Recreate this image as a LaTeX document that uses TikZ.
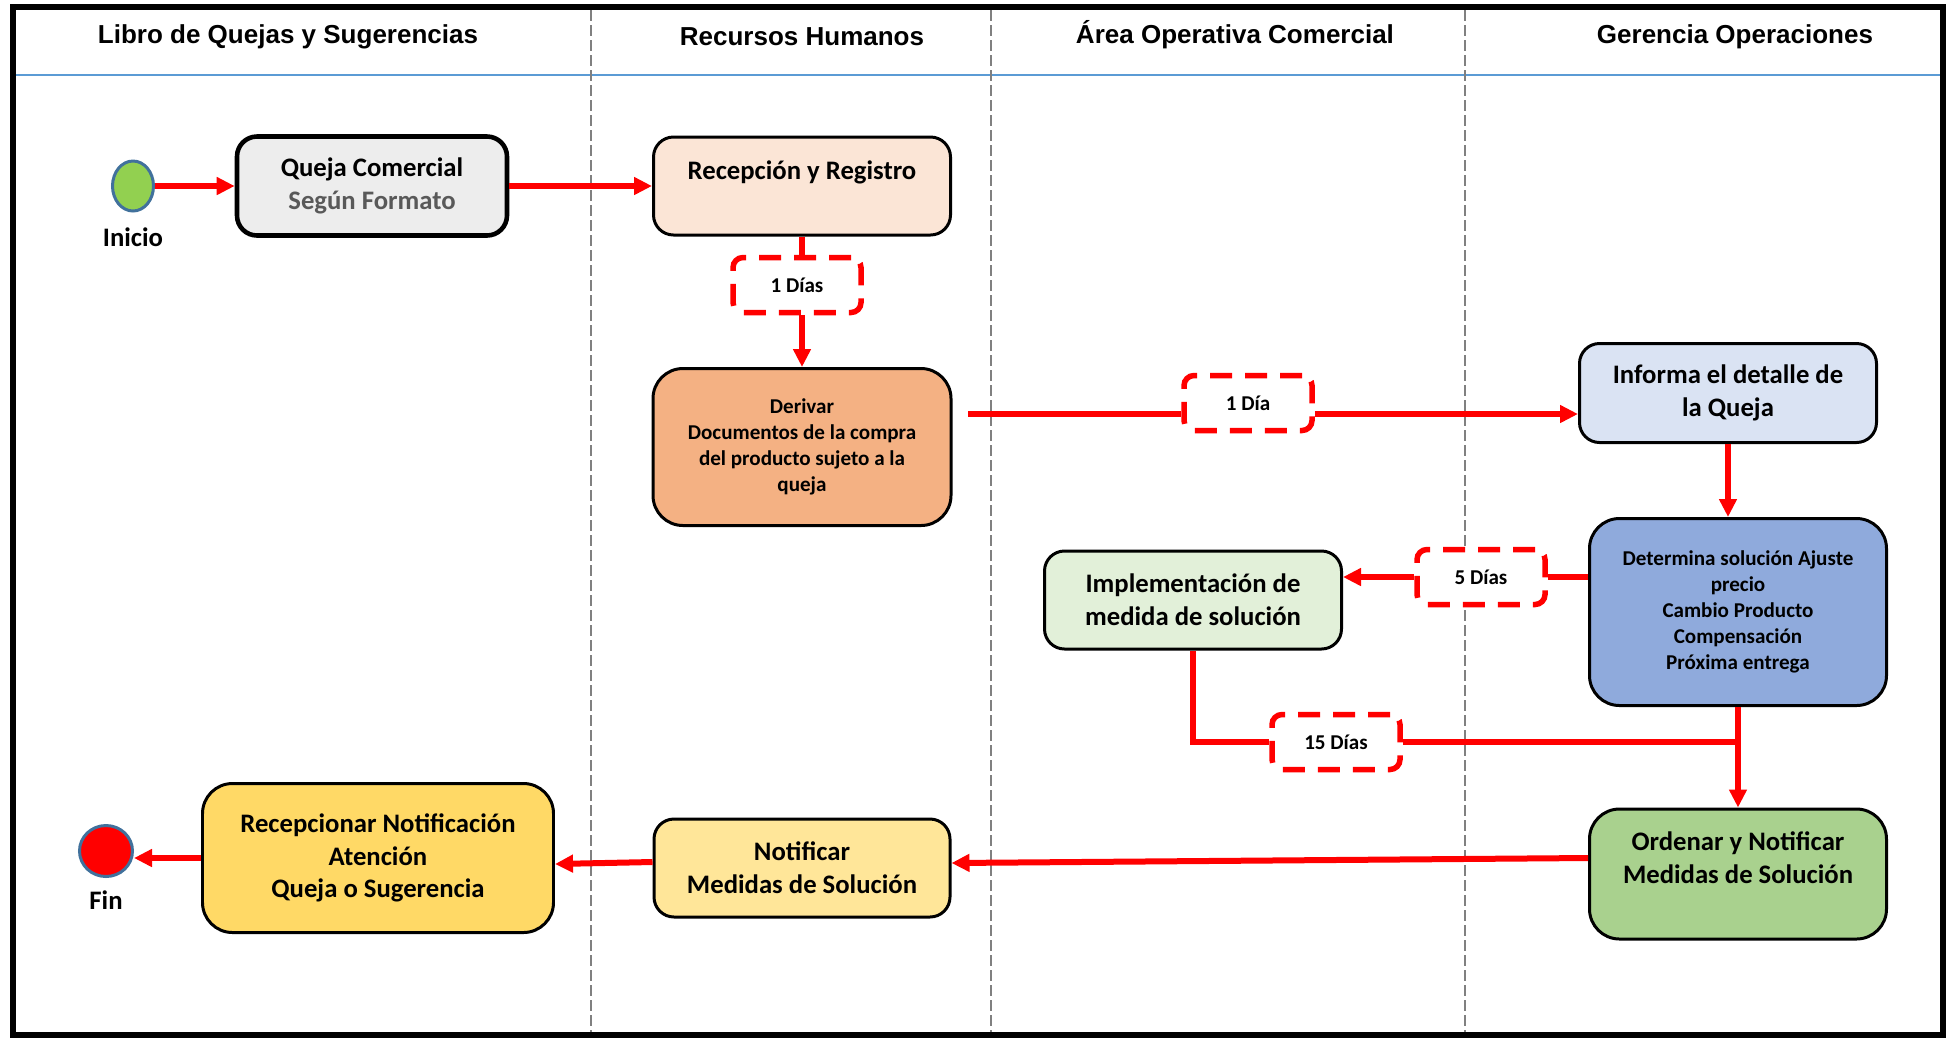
\documentclass[tikz,border=0pt]{standalone}
\usepackage{fontspec}
\setmainfont{Carlito}
\newfontfamily\headfont{Liberation Sans}
\usepackage{tikz}
\usetikzlibrary{arrows.meta,calc,shapes.geometric}

\definecolor{gris}{HTML}{595959}
\definecolor{azul}{HTML}{5B9BD5}
\definecolor{borde}{HTML}{41719C}
\definecolor{verdeini}{HTML}{92D050}
\definecolor{cqueja}{HTML}{EDEDED}
\definecolor{crecep}{HTML}{FBE5D6}
\definecolor{cderiv}{HTML}{F4B183}
\definecolor{cinforma}{HTML}{DAE3F3}
\definecolor{cdeterm}{HTML}{8FAADC}
\definecolor{cimplem}{HTML}{E2F0D9}
\definecolor{cordenar}{HTML}{A9D18E}
\definecolor{cnotif}{HTML}{FFE699}
\definecolor{crecepn}{HTML}{FFD966}

\begin{document}
\begin{tikzpicture}[x=0.1mm,y=-0.1mm,
  carril/.style={gray,dash pattern=on 1.1mm off 0.4mm,line width=0.35pt},
  titulo/.style={font=\headfont\bfseries\fontsize{7.4}{9}\selectfont},
  caja/.style={draw,line width=0.85pt,rounded corners=2mm,align=center,font=\bfseries\fontsize{7.6}{9.3}\selectfont},
  cajachica/.style={caja,font=\bfseries\fontsize{6}{7.4}\selectfont},
  plazo/.style={draw=red,fill=white,line width=0.55mm,dash pattern=on 2.2mm off 1.3mm,rounded corners=1mm,minimum width=12.8mm,minimum height=5.5mm,font=\bfseries\fontsize{6}{7.4}\selectfont},
  linea/.style={red,line width=0.6mm},
  flecha/.style={linea,-{Triangle[length=1.8mm,width=1.7mm]}},
  evento/.style={ellipse,draw=borde,line width=0.3mm},
  rotulo/.style={font=\bfseries\fontsize{7.6}{9.3}\selectfont}
]
\useasboundingbox (0,0) rectangle (1949,1037);

% carriles
\draw[line width=1.7pt] (13,7) rectangle (1943,1035);
\draw[azul,line width=0.2mm] (16,75) -- (1940,75);
\foreach \x in {591,991,1465}
  \draw[carril] (\x,10) -- (\x,1032);

\node[titulo] (libro) at (288,37) {Libro de Quejas y Sugerencias};
\node[titulo] (rrhh) at (802,37) {Recursos Humanos};
\node[titulo] (area) at (1235,35) {Área Operativa Comercial};
\node[titulo] (geren) at (1735,37) {Gerencia Operaciones};

% actividades
\node[evento,fill=verdeini,minimum width=4.1mm,minimum height=5mm] (ini) at (133,186) {};
\node[rotulo] (lblini) at (133,237) {Inicio};
\node[caja,fill=cqueja,line width=1.3pt,minimum width=27mm,minimum height=9.9mm] (queja) at (372,186) {Queja Comercial\\{\color{gris}Según Formato}};
\node[caja,fill=crecep,minimum width=29.7mm,minimum height=9.8mm] (recep) at (802,186) {Recepción y Registro\\~};
\node[plazo] (t1) at (797,285) {1 Días};
\node[cajachica,fill=cderiv,rounded corners=3mm,minimum width=29.8mm,minimum height=15.7mm] (deriv) at (802,447) {Derivar\\Documentos de la compra\\del producto sujeto a la\\queja};
\node[plazo] (t2) at (1248,403) {1 Día};
\node[caja,fill=cinforma,minimum width=29.7mm,minimum height=9.9mm] (informa) at (1728,393) {Informa el detalle de\\la Queja};
\node[cajachica,fill=cdeterm,rounded corners=3mm,minimum width=29.7mm,minimum height=18.7mm] (determ) at (1738,612) {Determina solución Ajuste\\precio\\Cambio Producto\\Compensación\\Próxima entrega};
\node[plazo] (t3) at (1481,577) {5 Días};
\node[caja,fill=cimplem,minimum width=29.7mm,minimum height=9.8mm] (implem) at (1193,600) {Implementación de\\medida de solución};
\node[plazo] (t4) at (1336,742) {15 Días};
\node[caja,fill=cordenar,rounded corners=3mm,minimum width=29.7mm,minimum height=13mm] (ordenar) at (1738,874) {Ordenar y Notificar\\Medidas de Solución\\~};
\node[caja,fill=cnotif,minimum width=29.6mm,minimum height=9.8mm] (notif) at (802,868) {Notificar\\Medidas de Solución};
\node[caja,fill=crecepn,rounded corners=3mm,minimum width=35.1mm,minimum height=14.9mm] (recepn) at (378,858) {Recepcionar Notificación\\Atención\\Queja o Sugerencia};
\node[evento,fill=red,minimum width=5.3mm,minimum height=5.1mm] (fin) at (106,851) {};
\node[rotulo] (lblfin) at (106,900) {Fin};

% flujo
\coordinate (d2) at (968,414);
\draw[flecha] (ini) -- (queja);
\draw[flecha] (queja) -- (recep);
\draw[linea] (recep.south) -- (recep.south |- t1.north);
\draw[flecha] (t1.south -| recep.south) -- (deriv.north);
\draw[linea] (d2) -- (d2 -| t2.west);
\draw[flecha] (d2 -| t2.east) -- (d2 -| informa.west);
\draw[flecha] (informa.south) -- (informa.south |- determ.north);
\draw[linea] (determ.west |- t3.east) -- (t3.east);
\draw[flecha] (t3.west) -- (t3.west -| implem.east);
\draw[linea] (implem.south) |- (t4.west);
\draw[linea] (t4.east) -- (t4.east -| determ.south);
\draw[flecha] (determ.south) -- (ordenar.north);
\draw[flecha] ($(ordenar.west)+(0,-16)$) -- ($(notif.east)+(0,-5)$);
\draw[flecha] ($(notif.west)+(0,-6)$) -- ($(recepn.east)+(0,6)$);
\draw[flecha] (recepn.west) -- (recepn.west -| fin.east);
\end{tikzpicture}
\end{document}
